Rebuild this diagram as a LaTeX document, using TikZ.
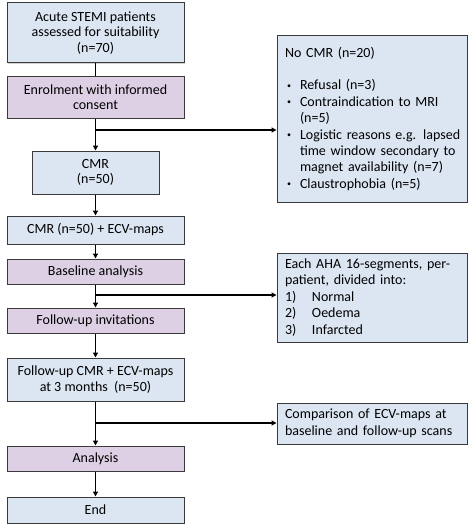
\documentclass[tikz,border=0pt]{standalone}
\usepackage{fontspec}
\setmainfont{Carlito}
\usetikzlibrary{arrows.meta,shadows}
\definecolor{boxblue}{HTML}{DCE6F2}
\definecolor{boxpurple}{HTML}{DDD0E4}
\definecolor{boxline}{HTML}{3A3A3A}
\newcommand{\bul}{\makebox[15pt][l]{\hspace{2pt}\raisebox{1.5pt}{\fontsize{8}{8}\selectfont •}}}
\begin{document}
\begin{tikzpicture}[x=1pt,y=-1pt,
  box/.style={draw=boxline, line width=1pt, inner sep=2pt, align=center,
    font=\fontsize{14}{15.6}\selectfont,
    drop shadow={shadow xshift=1.2pt, shadow yshift=-1.2pt, fill=black!35}},
  bluebox/.style={box, fill=boxblue},
  purplebox/.style={box, fill=boxpurple},
  sidebox/.style={box, fill=boxblue, align=left, minimum width=190pt, text width=174pt,
    font=\fontsize{14}{16.4}\selectfont},
  conn/.style={line width=1.5pt, draw=black},
  arr/.style={conn, -{Triangle[length=5pt,width=5pt]}}
]
\useasboundingbox (0,0) rectangle (472,527);
\node[bluebox, minimum width=177pt, minimum height=60pt] (b1) at (95.5,33) {Acute STEMI patients\\assessed for suitability\\(n=70)};
\node[purplebox, minimum width=177pt, minimum height=42pt] (b2) at (95.5,97) {Enrolment with informed\\consent};
\node[bluebox, minimum width=127pt, minimum height=43pt] (b3) at (95.5,172.5) {CMR\\(n=50)};
\node[bluebox, minimum width=177pt, minimum height=28pt] (b4) at (95.5,230) {CMR (n=50) + ECV-maps};
\node[purplebox, minimum width=177pt, minimum height=25pt] (b5) at (95.5,271.5) {Baseline analysis};
\node[purplebox, minimum width=177pt, minimum height=25pt] (b6) at (95.5,320.5) {Follow-up invitations};
\node[bluebox, minimum width=177pt, minimum height=43pt] (b7) at (95.5,379.5) {Follow-up CMR + ECV-maps\\at 3 months~~(n=50)};
\node[purplebox, minimum width=177pt, minimum height=25pt] (b8) at (95.5,458.5) {Analysis};
\node[bluebox, minimum width=177pt, minimum height=26pt] (b9) at (95.5,510) {End};

\node[sidebox, minimum height=166pt] (r1) at (372,119) {No CMR (n=20)\\[16pt]
\mbox{\bul Refusal (n=3)}\\
\mbox{\bul Contraindication to MRI}\\
\mbox{\hspace*{15pt}(n=5)}\\
\mbox{\bul Logistic reasons e.g. lapsed}\\
\mbox{\hspace*{15pt}time window secondary to}\\
\mbox{\hspace*{15pt}magnet availability (n=7)}\\
\mbox{\bul Claustrophobia (n=5)}};
\node[sidebox, minimum height=89pt] (r2) at (372,297.5) {Each AHA 16-segments, per-\\
patient, divided into:\\
\makebox[27pt][l]{1)}Normal\\
\makebox[27pt][l]{2)}Oedema\\
\makebox[27pt][l]{3)}Infarcted};
\node[sidebox, minimum height=41pt] (r3) at (372,423.5) {Comparison of ECV-maps at\\baseline and follow-up scans};

\coordinate (j1) at (95.5,130);
\coordinate (j2) at (95.5,295);
\coordinate (j3) at (95.5,423);

\draw[conn] (b1) -- (b2);
\draw[arr] (b2) -- (b3);
\draw[arr] (b3) -- (b4);
\draw[arr] (b4) -- (b5);
\draw[arr] (b5) -- (b6);
\draw[arr] (b6) -- (b7);
\draw[arr] (b7) -- (b8);
\draw[arr] (b8) -- (b9);
\draw[arr] (j1) -- (j1 -| r1.west);
\draw[arr] (j2) -- (j2 -| r2.west);
\draw[arr] (j3) -- (j3 -| r3.west);
\end{tikzpicture}
\end{document}
